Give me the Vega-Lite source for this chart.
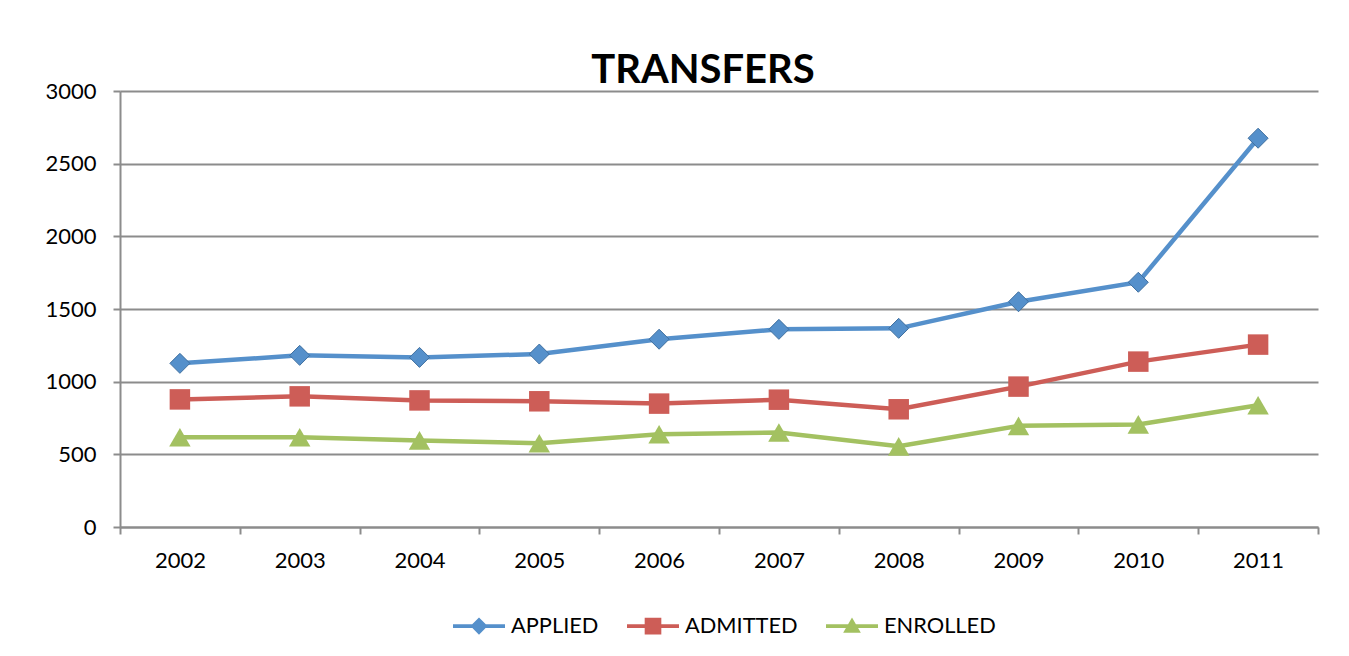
{
  "$schema": "https://vega.github.io/schema/vega-lite/v6.json",
  "autosize": "none",
  "width": 1198,
  "height": 436,
  "padding": {"left": 120, "top": 91, "right": 31, "bottom": 129},
  "background": "white",
  "config": {
    "view": {"stroke": null},
    "font": "Lato"
  },
  "title": {
    "text": "TRANSFERS",
    "font": "Lato",
    "fontSize": 40,
    "fontWeight": "bold",
    "color": "black",
    "anchor": "middle",
    "dx": -16,
    "dy": 53,
    "offset": 10,
    "baseline": "alphabetic"
  },
  "data": {
    "values": [
      {"year": "2002", "series": "APPLIED", "value": 1126},
      {"year": "2003", "series": "APPLIED", "value": 1181},
      {"year": "2004", "series": "APPLIED", "value": 1167},
      {"year": "2005", "series": "APPLIED", "value": 1190},
      {"year": "2006", "series": "APPLIED", "value": 1292},
      {"year": "2007", "series": "APPLIED", "value": 1360},
      {"year": "2008", "series": "APPLIED", "value": 1367},
      {"year": "2009", "series": "APPLIED", "value": 1550},
      {"year": "2010", "series": "APPLIED", "value": 1684},
      {"year": "2011", "series": "APPLIED", "value": 2675},
      {"year": "2002", "series": "ADMITTED", "value": 878},
      {"year": "2003", "series": "ADMITTED", "value": 899},
      {"year": "2004", "series": "ADMITTED", "value": 871},
      {"year": "2005", "series": "ADMITTED", "value": 865},
      {"year": "2006", "series": "ADMITTED", "value": 849},
      {"year": "2007", "series": "ADMITTED", "value": 876},
      {"year": "2008", "series": "ADMITTED", "value": 810},
      {"year": "2009", "series": "ADMITTED", "value": 966},
      {"year": "2010", "series": "ADMITTED", "value": 1138},
      {"year": "2011", "series": "ADMITTED", "value": 1255},
      {"year": "2002", "series": "ENROLLED", "value": 617},
      {"year": "2003", "series": "ENROLLED", "value": 617},
      {"year": "2004", "series": "ENROLLED", "value": 596},
      {"year": "2005", "series": "ENROLLED", "value": 576},
      {"year": "2006", "series": "ENROLLED", "value": 638},
      {"year": "2007", "series": "ENROLLED", "value": 650},
      {"year": "2008", "series": "ENROLLED", "value": 555},
      {"year": "2009", "series": "ENROLLED", "value": 696},
      {"year": "2010", "series": "ENROLLED", "value": 706},
      {"year": "2011", "series": "ENROLLED", "value": 838}
    ]
  },
  "encoding": {
    "x": {
      "field": "year",
      "type": "ordinal",
      "scale": {"type": "band", "paddingInner": 0, "paddingOuter": 0},
      "axis": {
        "title": null,
        "labelAngle": 0,
        "tickBand": "extent",
        "grid": false,
        "domainColor": "#8c8c8c",
        "domainWidth": 2,
        "tickColor": "#8c8c8c",
        "tickWidth": 2,
        "tickSize": 7,
        "labelFont": "Lato",
        "labelFontSize": 22,
        "labelColor": "black",
        "labelPadding": 16
      }
    },
    "y": {
      "field": "value",
      "type": "quantitative",
      "scale": {"domain": [0, 3000], "nice": false, "zero": true},
      "axis": {
        "title": null,
        "format": "d",
        "values": [0, 500, 1000, 1500, 2000, 2500, 3000],
        "grid": true,
        "gridColor": "#8c8c8c",
        "gridWidth": 2,
        "domainColor": "#8c8c8c",
        "domainWidth": 2,
        "tickColor": "#8c8c8c",
        "tickWidth": 2,
        "tickSize": 7,
        "labelFont": "Lato",
        "labelFontSize": 22,
        "labelColor": "black",
        "labelPadding": 17
      }
    }
  },
  "layer": [
    {
      "mark": {"type": "line", "strokeWidth": 4.5},
      "encoding": {
        "color": {
          "field": "series",
          "type": "nominal",
          "scale": {
            "domain": ["APPLIED", "ADMITTED", "ENROLLED"],
            "range": ["#5590CB", "#CD5D57", "#A3C161"]
          },
          "legend": {
            "title": null,
            "orient": "none",
            "legendX": 333,
            "legendY": 509,
            "direction": "horizontal",
            "columns": 3,
            "symbolSize": 2704,
            "symbolType": "M-1,-0.075H1V0.075H-1Z M0,-0.33L0.33,0L0,0.33L-0.33,0Z",
            "labelOffset": 6,
            "columnPadding": 28,
            "labelFont": "Lato",
            "labelFontSize": 21.8,
            "labelColor": "black",
            "labelBaseline": "middle",
            "encode": {
              "symbols": {
                "update": {
                  "shape": {"signal": "datum.value === 'APPLIED' ? 'M-1,-0.075H1V0.075H-1Z M0,-0.33L0.33,0L0,0.33L-0.33,0Z' : datum.value === 'ADMITTED' ? 'M-1,-0.075H1V0.075H-1Z M-0.32,-0.32H0.32V0.32H-0.32Z' : 'M-1,-0.075H1V0.075H-1Z M0,-0.33L0.34,0.26L-0.34,0.26Z'"},
                  "fill": {"signal": "datum.value === 'APPLIED' ? '#5590CB' : datum.value === 'ADMITTED' ? '#CD5D57' : '#A3C161'"},
                  "fillOpacity": {"value": 1},
                  "strokeWidth": {"value": 0},
                  "opacity": {"value": 1}
                }
              }
            }
          }
        }
      }
    },
    {
      "transform": [{"filter": "datum.series === 'APPLIED'"}],
      "mark": {"type": "point", "shape": "diamond", "filled": true, "opacity": 1, "size": 400, "color": "#5590CB", "stroke": "#3f6f9f", "strokeWidth": 1}
    },
    {
      "transform": [{"filter": "datum.series === 'ADMITTED'"}],
      "mark": {"type": "point", "shape": "square", "filled": true, "opacity": 1, "size": 420, "color": "#CD5D57"}
    },
    {
      "transform": [{"filter": "datum.series === 'ENROLLED'"}],
      "mark": {"type": "point", "shape": "triangle-up", "filled": true, "opacity": 1, "size": 460, "color": "#A3C161"}
    }
  ]
}
